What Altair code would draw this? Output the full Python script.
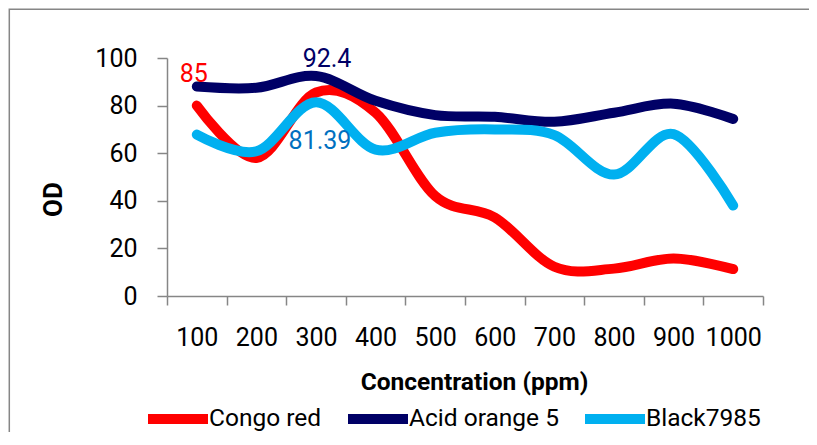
import altair as alt
import pandas as pd

concentrations = ["100", "200", "300", "400", "500", "600", "700", "800", "900", "1000"]
series_names = ["Congo red", "Acid orange 5", "Black7985"]
series_colors = ["#FF0000", "#000066", "#00B0F0"]

congo_red = [80, 58, 85.5, 77, 42, 33, 12.3, 11.5, 15.8, 11.3]
acid_orange_5 = [88, 87.5, 92.4, 82, 76, 75.3, 73.2, 77, 80.8, 74.4]
black_7985 = [67.8, 60.8, 81.39, 61.5, 68.6, 70, 67.6, 51, 68, 38]

y_ticks = [0, 20, 40, 60, 80, 100]

ann_labels = ["85", "92.4", "81.39"]
ann_series = ["Congo red", "Acid orange 5", "Black7985"]
ann_conc = ["100", "300", "300"]
ann_colors = ["#FF0000", "#000066", "#0070C0"]
ann_dx = [-3, 11, 4]
ann_dy = [-32, -17, 39]

values_by_series = {
    "Congo red": congo_red,
    "Acid orange 5": acid_orange_5,
    "Black7985": black_7985,
}

rows = []
for s in series_names:
    for c, v in zip(concentrations, values_by_series[s]):
        rows.append({"series": s, "conc": c, "value": v})
df = pd.DataFrame(rows)

FONT = "Roboto"
GRAY = "#868686"

x_enc = alt.X(
    "conc:N",
    sort=concentrations,
    scale=alt.Scale(paddingInner=0, paddingOuter=0),
    axis=alt.Axis(
        title="Concentration (ppm)",
        labelAngle=0,
        tickBand="extent",
        domainColor=GRAY,
        tickColor=GRAY,
        domainWidth=1.5,
        tickWidth=1.5,
        tickSize=9,
        labelPadding=20,
        labelFontSize=25,
        labelFont=FONT,
        labelColor="black",
        titleFont=FONT,
        titleFontSize=24.5,
        titleFontWeight="bold",
        titleColor="black",
        titlePadding=20,
        titleX=307,
        grid=False,
    ),
)
y_enc = alt.Y(
    "value:Q",
    scale=alt.Scale(domain=[0, 100], nice=False),
    axis=alt.Axis(
        title="OD",
        values=y_ticks,
        domainColor=GRAY,
        tickColor=GRAY,
        domainWidth=1.5,
        tickWidth=1.5,
        tickSize=10,
        labelPadding=20,
        labelFontSize=25,
        labelFont=FONT,
        labelColor="black",
        titleFont=FONT,
        titleFontSize=26,
        titleFontWeight="bold",
        titleColor="black",
        titleX=-114,
        titleY=141,
        titleAngle=270,
        titleAlign="center",
        titleBaseline="middle",
        grid=False,
    ),
)
color_enc = alt.Color(
    "series:N",
    sort=series_names,
    scale=alt.Scale(domain=series_names, range=series_colors),
    legend=alt.Legend(
        title=None,
        orient="none",
        legendX=-24,
        legendY=326,
        direction="horizontal",
        columns=3,
        symbolType="stroke",
        symbolSize=3600,
        symbolStrokeWidth=10,
        labelFontSize=24.5,
        labelFont=FONT,
        labelColor="black",
        columnPadding=6,
        labelOffset={"expr": "-4"},
        padding=0,
    ),
)

frame = pd.DataFrame({"k": [0]})
# chart-area frame: only its top and left edges fall inside the picture
border = alt.Chart(frame).mark_rect(fillOpacity=0, stroke=GRAY, strokeWidth=1.5).encode(
    x=alt.value(-157.7), x2=alt.value(720), y=alt.value(-48.7), y2=alt.value(450)
)

base = alt.Chart(df)
layers = [border]
for s in series_names:
    layers.append(
        base.transform_filter(alt.datum.series == s)
        .mark_line(interpolate="cardinal", strokeWidth=10, strokeCap="round", strokeJoin="round")
        .encode(x=x_enc, y=y_enc, color=color_enc)
    )

for lab, s, c, col, dx, dy in zip(ann_labels, ann_series, ann_conc, ann_colors, ann_dx, ann_dy):
    v = values_by_series[s][concentrations.index(c)]
    adf = pd.DataFrame({"conc": [c], "value": [v], "label": [lab]})
    layers.append(
        alt.Chart(adf)
        .mark_text(font=FONT, fontSize=25, color=col, dx=dx, dy=dy, align="center", baseline="middle")
        .encode(x=x_enc, y=y_enc, text="label:N")
    )

chart = (
    alt.layer(*layers)
    .properties(
        width=596,
        height=238,
        autosize=alt.AutoSizeParams(type="none"),
        padding={"left": 159, "top": 50, "right": 46, "bottom": 136},
        background="white",
    )
    .configure_view(strokeWidth=0)
)

chart.save("out.html", embed_options={"renderer": "svg", "actions": False})
